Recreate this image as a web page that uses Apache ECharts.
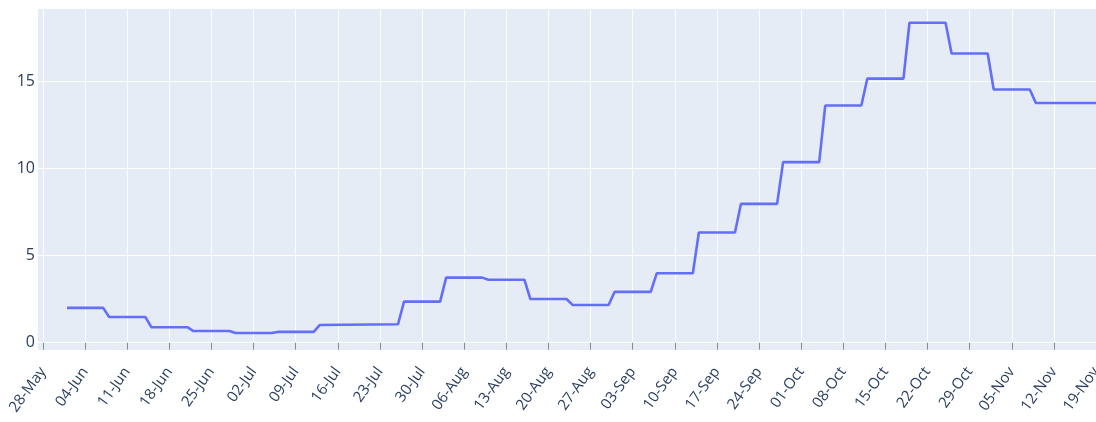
<!DOCTYPE html>
<html>
<head>
<meta charset="utf-8">
<script src="https://cdn.jsdelivr.net/npm/echarts@6/dist/echarts.min.js"></script>
<style>
  html, body { margin: 0; padding: 0; background: #fff; }
  #chart { width: 1096px; height: 422px; }
</style>
</head>
<body>
<div id="chart"></div>
<script>
  // corner points of the step line (value held, then changes over one day)
  const dates = [
    '2023-06-01', '2023-06-07', '2023-06-08', '2023-06-14', '2023-06-15', '2023-06-21',
    '2023-06-22', '2023-06-28', '2023-06-29', '2023-07-05', '2023-07-06', '2023-07-12',
    '2023-07-13', '2023-07-26', '2023-07-27', '2023-08-02', '2023-08-03', '2023-08-09',
    '2023-08-10', '2023-08-16', '2023-08-17', '2023-08-23', '2023-08-24', '2023-08-30',
    '2023-08-31', '2023-09-06', '2023-09-07', '2023-09-13', '2023-09-14', '2023-09-20',
    '2023-09-21', '2023-09-27', '2023-09-28', '2023-10-04', '2023-10-05', '2023-10-11',
    '2023-10-12', '2023-10-18', '2023-10-19', '2023-10-25', '2023-10-26', '2023-11-01',
    '2023-11-02', '2023-11-08', '2023-11-09', '2023-11-19'
  ];
  const values = [
    2.0, 2.0, 1.48, 1.48, 0.89, 0.89,
    0.67, 0.67, 0.56, 0.56, 0.62, 0.62,
    1.02, 1.06, 2.36, 2.36, 3.74, 3.74,
    3.62, 3.62, 2.51, 2.51, 2.17, 2.17,
    2.92, 2.92, 3.99, 3.99, 6.33, 6.33,
    7.98, 7.98, 10.38, 10.38, 13.63, 13.63,
    15.18, 15.18, 18.39, 18.39, 16.62, 16.62,
    14.55, 14.55, 13.78, 13.78
  ];
  const tickDates = [
    '2023-05-28', '2023-06-04', '2023-06-11', '2023-06-18', '2023-06-25', '2023-07-02',
    '2023-07-09', '2023-07-16', '2023-07-23', '2023-07-30', '2023-08-06', '2023-08-13',
    '2023-08-20', '2023-08-27', '2023-09-03', '2023-09-10', '2023-09-17', '2023-09-24',
    '2023-10-01', '2023-10-08', '2023-10-15', '2023-10-22', '2023-10-29', '2023-11-05',
    '2023-11-12', '2023-11-19'
  ];
  const yTicks = [0, 5, 10, 15];

  const DAY = 86400000;
  const MONTHS = ['Jan', 'Feb', 'Mar', 'Apr', 'May', 'Jun', 'Jul', 'Aug', 'Sep', 'Oct', 'Nov', 'Dec'];
  const ts = (s) => Date.parse(s + 'T00:00:00Z');
  const fmt = (v) => {
    const d = new Date(v);
    return String(d.getUTCDate()).padStart(2, '0') + '-' + MONTHS[d.getUTCMonth()];
  };

  const points = dates.map((d, i) => [ts(d), values[i]]);
  const xTicks = tickDates.map(ts);
  const textColor = '#2a3f5f';

  const chart = echarts.init(document.getElementById('chart'));
  chart.setOption({
    animation: false,
    grid: {
      left: 38, right: 0, top: 9, bottom: 72,
      outerBoundsMode: 'none',
      show: true,
      backgroundColor: '#e5ecf6',
      borderWidth: 0,
    },
    xAxis: {
      type: 'value',
      min: ts('2023-05-28') - 0.83 * DAY,
      max: ts('2023-11-19'),
      axisLine: {show: false},
      axisTick: {show: true, length: 7, customValues: xTicks, lineStyle: {color: '#888', width: 1}},
      axisLabel: {
        customValues: xTicks,
        formatter: fmt,
        rotate: 54,
        margin: 19,
        color: textColor,
        fontFamily: 'Open Sans',
        fontSize: 15,
      },
      splitLine: {show: true, lineStyle: {color: '#fff', width: 1}},
    },
    yAxis: {
      type: 'value',
      min: -0.42,
      max: 19.18,
      axisLine: {show: false},
      axisTick: {show: false, customValues: yTicks},
      axisLabel: {
        customValues: yTicks,
        margin: 3,
        color: textColor,
        fontFamily: 'Open Sans',
        fontSize: 16,
      },
      splitLine: {show: true, lineStyle: {color: '#fff', width: 1}},
    },
    series: [
      {
        type: 'line',
        data: points,
        showSymbol: false,
        lineStyle: {color: '#636efa', width: 2.6},
      },
    ],
  });
</script>
</body>
</html>
